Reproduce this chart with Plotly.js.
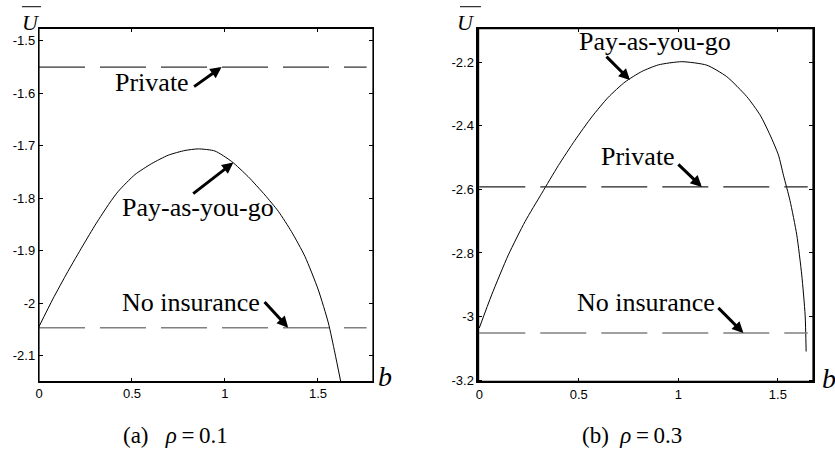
<!DOCTYPE html>
<html>
<head>
<meta charset="utf-8">
<script src="https://cdn.plot.ly/plotly-3.0.1.min.js"></script>
<style>
  body { margin: 0; background: #fff; }
  #plot { width: 835px; height: 453px; }
</style>
</head>
<body>
<div id="plot"></div>
<script>
// (a) rho = 0.1
var bA = [0, 0.075, 0.155, 0.235, 0.306, 0.38, 0.426, 0.516, 0.606, 0.695, 0.785, 0.857,
          0.946, 1.036, 1.125, 1.215, 1.287, 1.358, 1.430, 1.502, 1.556, 1.591, 1.622];
var payA = [-2.045, -1.992, -1.940, -1.891, -1.849, -1.809, -1.787, -1.755, -1.734, -1.718, -1.709, -1.706,
            -1.710, -1.730, -1.759, -1.794, -1.825, -1.864, -1.911, -1.975, -2.038, -2.095, -2.149];
var flatA = [0, 1.762];
var privA = -1.55;
var noInsA = -2.047;

// (b) rho = 0.3
var bB = [0, 0.062, 0.146, 0.230, 0.314, 0.397, 0.481, 0.565, 0.648, 0.732, 0.816, 0.900,
          1.017, 1.143, 1.243, 1.344, 1.411, 1.461, 1.503, 1.528, 1.561, 1.595, 1.620, 1.637, 1.642];
var payB = [-3.036, -2.932, -2.806, -2.701, -2.612, -2.525, -2.445, -2.372, -2.310, -2.262, -2.229, -2.208,
            -2.198, -2.209, -2.245, -2.308, -2.366, -2.429, -2.492, -2.555, -2.635, -2.743, -2.869, -2.995, -3.110];
var flatB = [0, 1.65];
var privB = -2.592;
var noInsB = -3.052;

var xTicks = [0, 0.5, 1, 1.5];
var xTickText = ['0', '0.5', '1', '1.5'];
var yTicksA = [-2.1, -2.0, -1.9, -1.8, -1.7, -1.6, -1.5];
var yTickTextA = ['-2.1', '-2', '-1.9', '-1.8', '-1.7', '-1.6', '-1.5'];
var yTicksB = [-3.2, -3.0, -2.8, -2.6, -2.4, -2.2];
var yTickTextB = ['-3.2', '-3', '-2.8', '-2.6', '-2.4', '-2.2'];

var dash = '46px,15px';
var curve = {color: '#000', width: 1, shape: 'spline', smoothing: 0.6};

var data = [
  {x: bA, y: payA, xaxis: 'x', yaxis: 'y', mode: 'lines', line: curve},
  {x: flatA, y: [privA, privA], xaxis: 'x', yaxis: 'y', mode: 'lines', line: {color: '#333', width: 1.2, dash: dash}},
  {x: flatA, y: [noInsA, noInsA], xaxis: 'x', yaxis: 'y', mode: 'lines', line: {color: '#808080', width: 1.5, dash: dash}},
  {x: bB, y: payB, xaxis: 'x2', yaxis: 'y2', mode: 'lines', line: curve},
  {x: flatB, y: [privB, privB], xaxis: 'x2', yaxis: 'y2', mode: 'lines', line: {color: '#222', width: 1.2, dash: dash}},
  {x: flatB, y: [noInsB, noInsB], xaxis: 'x2', yaxis: 'y2', mode: 'lines', line: {color: '#808080', width: 1.5, dash: dash}}
];

function axis(extra) {
  var a = {
    showgrid: false, zeroline: false, showline: true, linecolor: '#000',
    mirror: 'ticks', ticks: 'inside', ticklen: 4, tickcolor: '#000',
    tickmode: 'array', fixedrange: true,
    tickfont: {family: 'Liberation Sans, Arial, sans-serif', size: 13, color: '#000'}
  };
  for (var k in extra) a[k] = extra[k];
  return a;
}

var serif = 'Liberation Serif, Times New Roman, serif';
function label(txt, x, y, xr, yr) {
  return {text: txt, x: x, y: y, xref: xr, yref: yr, showarrow: false,
          xanchor: 'center', yanchor: 'middle', font: {family: serif, size: 26, color: '#000'}};
}
function arrow(x, y, ax, ay, xr, yr) {
  return {text: '', x: x, y: y, ax: ax, ay: ay, xref: xr, yref: yr, showarrow: true,
          arrowhead: 2, arrowwidth: 3, arrowsize: 0.75, arrowcolor: '#000', standoff: 0};
}
function note(txt, x, y, size) {
  return {text: txt, x: x, y: y, xref: 'paper', yref: 'paper', showarrow: false,
          xanchor: 'center', yanchor: 'middle', font: {family: serif, size: size, color: '#000'}};
}
function frame(xr, yr, w) {
  return {type: 'rect', xref: xr + ' domain', yref: yr + ' domain', x0: 0, x1: 1, y0: 0, y1: 1,
          line: {color: '#000', width: w}, layer: 'above'};
}

var layout = {
  width: 835, height: 453,
  margin: {l: 0, r: 0, t: 0, b: 0},
  paper_bgcolor: '#fff', plot_bgcolor: '#fff',
  showlegend: false,
  xaxis: axis({domain: [0.0467, 0.4467], range: [0, 1.796], tickvals: xTicks, ticktext: xTickText, anchor: 'y', linewidth: 1.2}),
  yaxis: axis({domain: [0.1574, 0.9375], range: [-2.15, -1.476], tickvals: yTicksA, ticktext: yTickTextA, anchor: 'x', linewidth: 1.2}),
  xaxis2: axis({domain: [0.5728, 0.974], range: [-0.005, 1.678], tickvals: xTicks, ticktext: xTickText, anchor: 'y2', linewidth: 1.8}),
  yaxis2: axis({domain: [0.1574, 0.9375], range: [-3.205, -2.093], tickvals: yTicksB, ticktext: yTickTextB, anchor: 'x2', linewidth: 1.8}),
  annotations: [
    label('Private', 0.605, -1.579, 'x', 'y'),
    label('Pay-as-you-go', 0.857, -1.817, 'x', 'y'),
    label('No insurance', 0.817, -1.998, 'x', 'y'),
    arrow(0.982, privA, -29, 20.6, 'x', 'y'),
    arrow(1.045, -1.732, -41.6, 32.3, 'x', 'y'),
    arrow(1.34, noInsA, -25, -27.3, 'x', 'y'),

    label('Pay-as-you-go', 0.884, -2.135, 'x2', 'y2'),
    label('Private', 0.795, -2.497, 'x2', 'y2'),
    label('No insurance', 0.838, -2.957, 'x2', 'y2'),
    arrow(0.757, -2.256, -25, -25, 'x2', 'y2'),
    arrow(1.118, privB, -25, -24, 'x2', 'y2'),
    arrow(1.327, noInsB, -26.6, -26.7, 'x2', 'y2'),

    note('<i>U</i>', 0.0371, 0.950, 22),
    note('<i>U</i>', 0.558, 0.950, 22),
    note('<i>b</i>', 0.461, 0.168, 28),
    note('<i>b</i>', 0.993, 0.165, 28),
    note('(a)\u00a0\u00a0\u00a0<i>ρ</i>\u2009=\u20090.1', 0.2096, 0.0397, 23),
    note('(b)\u00a0\u00a0<i>ρ</i>\u2009=\u20090.3', 0.757, 0.0397, 23)
  ],
  shapes: [
    frame('x', 'y', 1.2),
    frame('x2', 'y2', 1.8),
    {type: 'line', xref: 'paper', yref: 'paper', x0: 0.0263, x1: 0.0491, y0: 0.9852, y1: 0.9852, line: {color: '#000', width: 1}},
    {type: 'line', xref: 'paper', yref: 'paper', x0: 0.5509, x1: 0.576, y0: 0.9852, y1: 0.9852, line: {color: '#000', width: 1}}
  ]
};

Plotly.newPlot('plot', data, layout, {staticPlot: true, displayModeBar: false});
</script>
</body>
</html>
